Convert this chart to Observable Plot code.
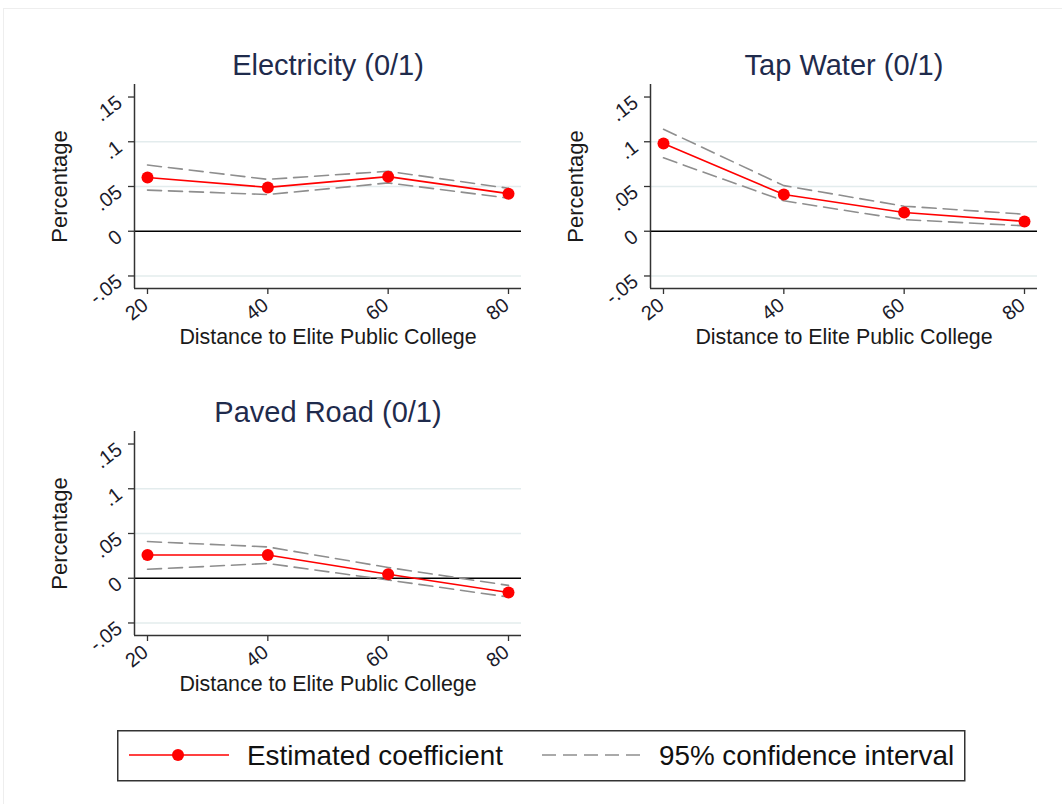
<!DOCTYPE html>
<html>
<head>
<meta charset="utf-8">
<script src="https://cdn.jsdelivr.net/npm/d3@7"></script>
<script src="https://cdn.jsdelivr.net/npm/@observablehq/plot@0.6"></script>
<style>
  html, body { margin: 0; padding: 0; background: #fff; }
  #root { position: relative; width: 1062px; height: 804px; overflow: hidden; background: #fff;
          font-family: "Liberation Sans", Arial, sans-serif; }
  #frame { position: absolute; left: 3px; top: 8px; width: 1070px; height: 810px;
           border-top: 1px solid #eeeeee; border-left: 1px solid #eeeeee; }
  .panel { position: absolute; }
  #legend { position: absolute; left: 117px; top: 730px; }
</style>
</head>
<body>
<div id="root">
  <div id="frame"></div>
  <div class="panel" id="p1" style="left:0px; top:40px;"></div>
  <div class="panel" id="p2" style="left:516px; top:40px;"></div>
  <div class="panel" id="p3" style="left:0px; top:387px;"></div>
  <div id="legend"></div>
</div>
<script>
// ---- data ----
const distances = [20, 40, 60, 80];

const electricityCoef  = [0.060, 0.049, 0.061, 0.042];
const electricityUpper = [0.074, 0.058, 0.067, 0.048];
const electricityLower = [0.046, 0.041, 0.054, 0.037];

const tapWaterCoef  = [0.098, 0.041, 0.021, 0.011];
const tapWaterUpper = [0.114, 0.051, 0.028, 0.019];
const tapWaterLower = [0.082, 0.034, 0.013, 0.006];

const pavedRoadCoef  = [0.026, 0.026, 0.0045, -0.016];
const pavedRoadUpper = [0.041, 0.035, 0.012, -0.008];
const pavedRoadLower = [0.010, 0.0165, -0.002, -0.021];

const panelTitles = ["Electricity (0/1)", "Tap Water (0/1)", "Paved Road (0/1)"];
const xAxisTitle = "Distance to Elite Public College";
const yAxisTitle = "Percentage";
const xTickLabels = ["20", "40", "60", "80"];
const yTickValues = [-0.05, 0, 0.05, 0.1, 0.15];
const yTickLabels = ["-.05", "0", ".05", ".1", ".15"];
const gridValues = [-0.05, 0.05, 0.1];
const legendLabels = ["Estimated coefficient", "95% confidence interval"];

// ---- chart ----
const xDomain = [17.84, 82.16];
const yDomain = [-0.064, 0.164];
const FONT = '"Liberation Sans", Arial, sans-serif';
const TICK_FONT = 20;
const TICK_ANGLE = -38;

function rows(coef, upper, lower) {
  return distances.map((d, i) => ({d, coef: coef[i], upper: upper[i], lower: lower[i]}));
}

function panel(title, data) {
  return Plot.plot({
    width: 540,
    height: 320,
    marginLeft: 134,
    marginRight: 19,
    marginTop: 44,
    marginBottom: 72,
    style: {fontFamily: FONT, fontSize: "17px", color: "#333", background: "transparent", overflow: "visible"},
    x: {domain: xDomain},
    y: {domain: yDomain},
    marks: [
      Plot.gridY(gridValues, {stroke: "#e3eced", strokeOpacity: 1, strokeWidth: 1.5}),
      Plot.ruleY([0], {stroke: "#000", strokeWidth: 1.5}),
      Plot.line(data, {x: "d", y: "upper", stroke: "#8e8e8e", strokeWidth: 1.6, strokeDasharray: "14,7"}),
      Plot.line(data, {x: "d", y: "lower", stroke: "#8e8e8e", strokeWidth: 1.6, strokeDasharray: "14,7"}),
      Plot.line(data, {x: "d", y: "coef", stroke: "#ff0000", strokeWidth: 1.6}),
      Plot.dot(data, {x: "d", y: "coef", r: 6, fill: "#ff0000", stroke: "none"}),
      Plot.ruleX([xDomain[0]], {stroke: "#333", strokeWidth: 1.5}),
      Plot.ruleY([yDomain[0]], {stroke: "#333", strokeWidth: 1.5}),
      // tick marks (labels drawn separately)
      Plot.axisX({ticks: distances, tickSize: 6, tickFormat: () => "", label: null, stroke: "#333", strokeWidth: 1.3}),
      Plot.axisY({ticks: yTickValues, tickSize: 6, tickFormat: () => "", label: null, stroke: "#333", strokeWidth: 1.3}),
      // tick labels
      Plot.text(distances, {x: d => d, text: (d, i) => xTickLabels[i], frameAnchor: "bottom", dx: -2, dy: 14,
                            rotate: TICK_ANGLE, textAnchor: "end", lineAnchor: "middle", fontSize: TICK_FONT, fill: "#1a1a2a"}),
      Plot.text(yTickValues, {y: d => d, text: (d, i) => yTickLabels[i], frameAnchor: "left", dx: -15, dy: 3,
                              rotate: TICK_ANGLE, textAnchor: "end", lineAnchor: "middle", fontSize: TICK_FONT, fill: "#1a1a2a"}),
      Plot.text([title], {frameAnchor: "top", lineAnchor: "middle", dy: -19, fontSize: 29, fill: "#1f2b4c"}),
      Plot.text([xAxisTitle], {frameAnchor: "bottom", lineAnchor: "middle", dy: 49, fontSize: 21.4, fill: "#1a1a1a"}),
      Plot.text([yAxisTitle], {frameAnchor: "left", textAnchor: "middle", lineAnchor: "middle", dx: -75, rotate: -90, fontSize: 22, fill: "#1a1a1a"})
    ]
  });
}

document.getElementById("p1").appendChild(panel(panelTitles[0], rows(electricityCoef, electricityUpper, electricityLower)));
document.getElementById("p2").appendChild(panel(panelTitles[1], rows(tapWaterCoef, tapWaterUpper, tapWaterLower)));
document.getElementById("p3").appendChild(panel(panelTitles[2], rows(pavedRoadCoef, pavedRoadUpper, pavedRoadLower)));

// ---- legend ----
const lg = d3.select("#legend").append("svg")
  .attr("width", 850).attr("height", 52)
  .style("font-family", FONT);
lg.append("rect").attr("x", 0.75).attr("y", 0.75).attr("width", 847).attr("height", 50)
  .attr("fill", "#fff").attr("stroke", "#333").attr("stroke-width", 1.5);
lg.append("line").attr("x1", 12).attr("x2", 112).attr("y1", 25).attr("y2", 25)
  .attr("stroke", "#ff0000").attr("stroke-width", 1.6);
lg.append("circle").attr("cx", 61).attr("cy", 25).attr("r", 6).attr("fill", "#ff0000");
lg.append("text").attr("x", 130).attr("y", 25).attr("dy", "0.35em")
  .attr("font-size", 27.8).attr("fill", "#111").text(legendLabels[0]);
lg.append("line").attr("x1", 425).attr("x2", 526).attr("y1", 25).attr("y2", 25)
  .attr("stroke", "#8e8e8e").attr("stroke-width", 1.6).attr("stroke-dasharray", "14,7");
lg.append("text").attr("x", 542).attr("y", 25).attr("dy", "0.35em")
  .attr("font-size", 27.8).attr("fill", "#111").text(legendLabels[1]);
</script>
</body>
</html>
